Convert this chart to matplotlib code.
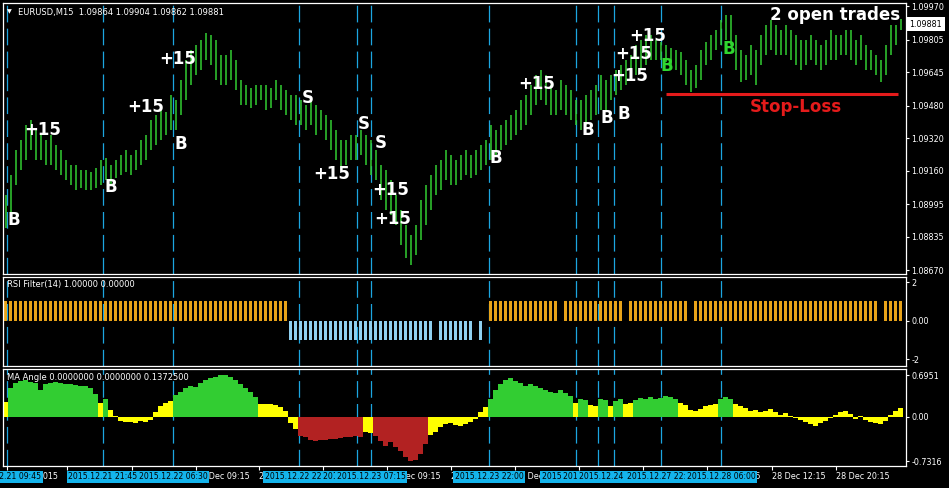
import matplotlib
matplotlib.use("Agg")
import matplotlib.pyplot as plt
import numpy as np
from matplotlib.transforms import blended_transform_factory as blend

plt.rcParams['font.family'] = ['DejaVu Sans']
plt.rcParams['lines.scale_dashes'] = False

# ---------------- data ----------------
header_text = "EURUSD,M15  1.09864 1.09904 1.09862 1.09881"
rsi_title = "RSI Filter(14) 1.00000 0.00000"
ma_title = "MA Angle 0.0000000 0.0000000 0.1372500"

high = [1.09041, 1.09139, 1.09262, 1.09311, 1.09385, 1.09410, 1.09360, 1.09336, 1.09311, 1.09336,
        1.09287, 1.09262, 1.09213, 1.09188, 1.09188, 1.09164, 1.09164, 1.09154, 1.09173, 1.09213,
        1.09223, 1.09188, 1.09213, 1.09237, 1.09262, 1.09237, 1.09262, 1.09311, 1.09336, 1.09410,
        1.09434, 1.09459, 1.09449, 1.09533, 1.09508, 1.09606, 1.09705, 1.09754, 1.09779, 1.09803,
        1.09838, 1.09828, 1.09803, 1.09729, 1.09729, 1.09754, 1.09705, 1.09606, 1.09582, 1.09567,
        1.09582, 1.09582, 1.09582, 1.09567, 1.09606, 1.09582, 1.09557, 1.09533, 1.09533, 1.09508,
        1.09483, 1.09508, 1.09483, 1.09459, 1.09434, 1.09410, 1.09360, 1.09311, 1.09311, 1.09336,
        1.09336, 1.09360, 1.09336, 1.09311, 1.09262, 1.09188, 1.09164, 1.09114, 1.09041, 1.08967,
        1.08893, 1.08844, 1.08893, 1.09016, 1.09090, 1.09139, 1.09188, 1.09213, 1.09262, 1.09237,
        1.09213, 1.09237, 1.09262, 1.09237, 1.09262, 1.09287, 1.09311, 1.09385, 1.09360, 1.09385,
        1.09410, 1.09434, 1.09459, 1.09508, 1.09533, 1.09582, 1.09631, 1.09656, 1.09631, 1.09582,
        1.09557, 1.09606, 1.09582, 1.09557, 1.09508, 1.09508, 1.09533, 1.09557, 1.09582, 1.09631,
        1.09606, 1.09631, 1.09656, 1.09680, 1.09705, 1.09729, 1.09779, 1.09803, 1.09828, 1.09828,
        1.09803, 1.09793, 1.09779, 1.09764, 1.09754, 1.09744, 1.09705, 1.09656, 1.09680, 1.09754,
        1.09793, 1.09828, 1.09852, 1.09902, 1.09926, 1.09926, 1.09828, 1.09754, 1.09729, 1.09779,
        1.09754, 1.09828, 1.09877, 1.09902, 1.09877, 1.09852, 1.09877, 1.09852, 1.09828, 1.09803,
        1.09803, 1.09828, 1.09803, 1.09779, 1.09803, 1.09852, 1.09828, 1.09828, 1.09852, 1.09852,
        1.09803, 1.09828, 1.09779, 1.09754, 1.09729, 1.09705, 1.09779, 1.09877, 1.09877, 1.09904]

low = [1.08878, 1.08942, 1.09090, 1.09164, 1.09213, 1.09262, 1.09213, 1.09213, 1.09188, 1.09188,
       1.09164, 1.09139, 1.09114, 1.09090, 1.09065, 1.09075, 1.09065, 1.09065, 1.09075, 1.09090,
       1.09114, 1.09090, 1.09124, 1.09139, 1.09154, 1.09139, 1.09164, 1.09188, 1.09213, 1.09262,
       1.09287, 1.09311, 1.09336, 1.09360, 1.09360, 1.09434, 1.09508, 1.09582, 1.09631, 1.09656,
       1.09705, 1.09680, 1.09606, 1.09582, 1.09582, 1.09606, 1.09557, 1.09483, 1.09483, 1.09469,
       1.09483, 1.09508, 1.09459, 1.09469, 1.09508, 1.09459, 1.09434, 1.09410, 1.09385, 1.09385,
       1.09360, 1.09385, 1.09336, 1.09360, 1.09311, 1.09262, 1.09213, 1.09164, 1.09188, 1.09213,
       1.09213, 1.09237, 1.09188, 1.09139, 1.09114, 1.09016, 1.08967, 1.08942, 1.08893, 1.08795,
       1.08731, 1.08696, 1.08745, 1.08819, 1.08893, 1.08967, 1.09041, 1.09065, 1.09114, 1.09090,
       1.09090, 1.09114, 1.09139, 1.09124, 1.09139, 1.09164, 1.09188, 1.09213, 1.09237, 1.09262,
       1.09287, 1.09311, 1.09336, 1.09360, 1.09385, 1.09434, 1.09483, 1.09508, 1.09483, 1.09434,
       1.09434, 1.09459, 1.09434, 1.09410, 1.09385, 1.09360, 1.09385, 1.09410, 1.09434, 1.09459,
       1.09459, 1.09508, 1.09533, 1.09557, 1.09582, 1.09606, 1.09631, 1.09656, 1.09680, 1.09705,
       1.09705, 1.09705, 1.09695, 1.09680, 1.09656, 1.09631, 1.09582, 1.09547, 1.09567, 1.09606,
       1.09680, 1.09705, 1.09754, 1.09779, 1.09803, 1.09779, 1.09656, 1.09597, 1.09606, 1.09631,
       1.09582, 1.09680, 1.09729, 1.09754, 1.09729, 1.09729, 1.09729, 1.09705, 1.09680, 1.09656,
       1.09680, 1.09705, 1.09680, 1.09656, 1.09680, 1.09705, 1.09705, 1.09729, 1.09729, 1.09705,
       1.09680, 1.09705, 1.09656, 1.09656, 1.09631, 1.09597, 1.09631, 1.09729, 1.09779, 1.09850]

# RSI filter state as runs of (value, number of bars)
rsi_runs = [(1, 57), (-1, 29), (0, 1), (-1, 7), (0, 1), (-1, 1), (0, 1), (1, 14), (0, 1),
            (1, 12), (0, 1), (1, 12), (0, 1), (1, 37), (0, 1), (1, 4)]

ma_angle = [0.25, 0.48, 0.57, 0.60, 0.61, 0.58, 0.56, 0.44, 0.55, 0.57,
            0.58, 0.56, 0.55, 0.55, 0.53, 0.52, 0.52, 0.48, 0.38, 0.24,
            0.30, 0.12, 0.02, -0.06, -0.09, -0.08, -0.10, -0.07, -0.09, -0.05,
            0.08, 0.18, 0.24, 0.26, 0.36, 0.42, 0.48, 0.52, 0.50, 0.56,
            0.62, 0.64, 0.66, 0.69, 0.70, 0.66, 0.62, 0.55, 0.48, 0.42,
            0.33, 0.22, 0.22, 0.21, 0.20, 0.16, 0.10, -0.10, -0.20, -0.32,
            -0.34, -0.38, -0.40, -0.38, -0.39, -0.37, -0.36, -0.35, -0.34, -0.33,
            -0.31, -0.33, -0.25, -0.27, -0.32, -0.40, -0.48, -0.42, -0.50, -0.56,
            -0.66, -0.73, -0.72, -0.62, -0.45, -0.30, -0.25, -0.16, -0.12, -0.10,
            -0.14, -0.15, -0.12, -0.08, -0.03, 0.08, 0.16, 0.30, 0.45, 0.55,
            0.62, 0.65, 0.60, 0.56, 0.52, 0.55, 0.52, 0.48, 0.45, 0.42,
            0.40, 0.44, 0.40, 0.35, 0.24, 0.30, 0.28, 0.20, 0.18, 0.30,
            0.28, 0.18, 0.26, 0.30, 0.22, 0.24, 0.28, 0.32, 0.30, 0.33,
            0.30, 0.32, 0.34, 0.33, 0.30, 0.24, 0.20, 0.12, 0.10, 0.14,
            0.18, 0.20, 0.22, 0.30, 0.33, 0.30, 0.22, 0.18, 0.15, 0.10,
            0.12, 0.08, 0.10, 0.14, 0.08, 0.04, 0.06, 0.02, -0.02, -0.05,
            -0.08, -0.12, -0.15, -0.10, -0.06, -0.02, 0.04, 0.08, 0.10, 0.05,
            -0.03, 0.02, -0.05, -0.08, -0.10, -0.12, -0.06, 0.04, 0.10, 0.15]

# MA angle trend state runs: g = up, y = flat, r = down
ma_state_runs = [('y', 1), ('g', 18), ('y', 1), ('g', 1), ('y', 13), ('g', 17), ('y', 8),
                 ('r', 13), ('y', 2), ('r', 11), ('y', 12), ('g', 17), ('y', 1), ('g', 2),
                 ('y', 2), ('g', 2), ('y', 1), ('g', 2), ('y', 2), ('g', 9), ('y', 8),
                 ('g', 3), ('y', 34)]

price_ticks = [1.09970, 1.09805, 1.09645, 1.09480, 1.09320, 1.09160, 1.08995, 1.08835, 1.08670]
last_price = 1.09881
stop_loss = 1.09538
stop_from_bar, stop_to_bar = 132.0, 178.5

ma_ticks = [0.6951, 0.0, -0.7316]
ma_tick_labels = ['0.6951', '0.00', '-0.7316']
rsi_ticks = [2, 0, -2]
rsi_tick_labels = ['2', '0.00', '-2']

time_tick_bars = [0.3, 12.3, 25.3, 38.1, 50.7, 63.5, 76.3, 89.1, 101.9, 114.7, 127.5, 140.3, 153.3, 166.1]
time_tick_labels = ['21 Dec 2015', '21 Dec 17:15', '22 Dec 01:15', '22 Dec 09:15', '22 Dec 17:15',
                    '23 Dec 01:15', '23 Dec 09:15', '23 Dec 17:15', '24 Dec 01:15', '24 Dec 09:15',
                    '24 Dec 22:15', '28 Dec 04:15', '28 Dec 12:15', '28 Dec 20:15']

event_bars = [0.3, 19.5, 33.5, 58.7, 70.3, 73.1, 96.7, 114.1, 118.5, 121.7, 131.1, 143.1]
event_labels = ['2015.12.21 09:45', '2015.12.21 21:45', '2015.12.22 06:30', '2015.12.22 22:15',
                '2015.12.23 05:30', '2015.12.23 07:15', '2015.12.23 22:00', '2015.12.24 08:45',
                '2015.12.24 14:15', '2015.12.24 18:15', '2015.12.27 22:30', '2015.12.28 06:00']

mark_bar = [1.7, 7.5, 21.1, 28.1, 35.1, 34.5, 60.5, 71.7, 75.1, 65.3, 77.1, 77.5,
            98.1, 106.3, 116.5, 120.3, 123.7, 124.9, 125.7, 128.5, 132.3, 144.7]
mark_price = [1.08918, 1.09360, 1.09080, 1.09474, 1.09291, 1.09710, 1.09518, 1.09390, 1.09296,
              1.09144, 1.09065, 1.08922, 1.09223, 1.09587, 1.09360, 1.09419, 1.09439, 1.09626,
              1.09734, 1.09823, 1.09675, 1.09759]
mark_text = ['B', '+15', 'B', '+15', 'B', '+15', 'S', 'S', 'S', '+15', '+15', '+15',
             'B', '+15', 'B', 'B', 'B', '+15', '+15', '+15', 'B', 'B']
mark_open = [False] * 20 + [True, True]

# ---------------- drawing ----------------
BAR = '#32cd32'
CYAN = '#1ca6e0'
BOX = '#14b4ec'
ORANGE = '#e8a319'
LBLUE = '#8fd0f0'
MA_COL = {'g': '#32cd32', 'y': '#ffff00', 'r': '#b22222'}

W, H = 949, 488
fig = plt.figure(figsize=(W / 100, H / 100), dpi=100)
fig.patch.set_facecolor('black')


def panel(top, bottom):
    ax = fig.add_axes([3 / W, 1 - bottom / H, 903 / W, (bottom - top) / H])
    ax.set_facecolor('black')
    for s in ax.spines.values():
        s.set_color('white')
        s.set_linewidth(0.9)
    ax.yaxis.tick_right()
    ax.tick_params(axis='y', colors='white', labelcolor='white', labelsize=5.8,
                   length=2.5, width=0.8, pad=1.5, direction='out')
    ax.tick_params(axis='x', bottom=False, labelbottom=False)
    ax.set_xlim(-0.5, 180.1)
    return ax


ax_p = panel(3, 274)
ax_r = panel(277, 366)
ax_m = panel(369, 466)

x = np.arange(len(high))

# main price panel
ax_p.set_ylim(1.08652, 1.09985)
ax_p.vlines(x, low, high, color=BAR, lw=1.1, zorder=2)
ax_p.set_yticks(price_ticks)
ax_p.set_yticklabels([f'{v:.5f}' for v in price_ticks])
ax_p.hlines(stop_loss, stop_from_bar, stop_to_bar, color='#e41b1b', lw=2.2, zorder=3)

# RSI filter panel
rsi = []
for v, n in rsi_runs:
    rsi += [v] * n
rsi = np.array(rsi)
ax_r.set_ylim(-2.36, 2.26)
ax_r.bar(x, rsi, width=0.42, color=[ORANGE if v > 0 else LBLUE for v in rsi],
         linewidth=0, antialiased=False, zorder=2)
ax_r.set_yticks(rsi_ticks)
ax_r.set_yticklabels(rsi_tick_labels)

# MA angle panel
states = []
for s, n in ma_state_runs:
    states += [s] * n
ax_m.set_ylim(-0.813, 0.796)
ax_m.bar(x, ma_angle, width=1.04, color=[MA_COL[s] for s in states],
         linewidth=0, antialiased=False, zorder=2)
ax_m.set_yticks(ma_ticks)
ax_m.set_yticklabels(ma_tick_labels)

# vertical event lines through all panels
for ax in (ax_p, ax_r, ax_m):
    for b in event_bars:
        ax.axvline(b, color=CYAN, lw=0.9, ls=(0, (12, 4.5)), zorder=1)

# time axis
ax_m.set_xticks(time_tick_bars)
ax_m.tick_params(axis='x', bottom=True, labelbottom=False, colors='white',
                 length=3, width=0.8, direction='out')
tr = blend(ax_m.transData, ax_m.transAxes)
for b, lab in zip(time_tick_bars, time_tick_labels):
    ax_m.text(b, -0.113, lab, transform=tr, ha='left', va='center', color='white',
              fontsize=5.8, zorder=5)
for k, (b, lab) in enumerate(zip(event_bars, event_labels)):
    ax_m.text(b, -0.113, lab, transform=tr, ha='center', va='center', color='black',
              fontsize=5.6, zorder=10 + k,
              bbox=dict(boxstyle='square,pad=0.22', fc=BOX, ec='none'))

# trade marks
for b, p, t, op in zip(mark_bar, mark_price, mark_text, mark_open):
    ax_p.text(b, p, t, ha='center', va='center', fontsize=12, fontweight='bold',
              color='#2fd62f' if op else 'white', zorder=6)

ax_p.text(158.1, 1.09474, 'Stop-Loss', ha='center', va='center', fontsize=12,
          fontweight='bold', color='#e41b1b', zorder=6)
fig.text(835 / W, 1 - 15 / H, '2 open trades', ha='center', va='center', fontsize=12,
         fontweight='bold', color='white')

# last price marker
ax_p.text(1.004, last_price, f'{last_price:.5f}', transform=blend(ax_p.transAxes, ax_p.transData),
          ha='left', va='center', fontsize=5.8, color='black', zorder=10,
          bbox=dict(boxstyle='square,pad=0.3', fc='white', ec='none'))

# titles
fig.text(7 / W, 1 - 12 / H, '\u25BC', ha='left', va='center', fontsize=4.5, color='white')
fig.text(18 / W, 1 - 12 / H, header_text, ha='left', va='center', fontsize=6, color='white')
fig.text(7 / W, 1 - 285 / H, rsi_title, ha='left', va='center', fontsize=6, color='white')
fig.text(7 / W, 1 - 377 / H, ma_title, ha='left', va='center', fontsize=6, color='white')

fig.savefig('out.png', dpi=100, facecolor='black')
